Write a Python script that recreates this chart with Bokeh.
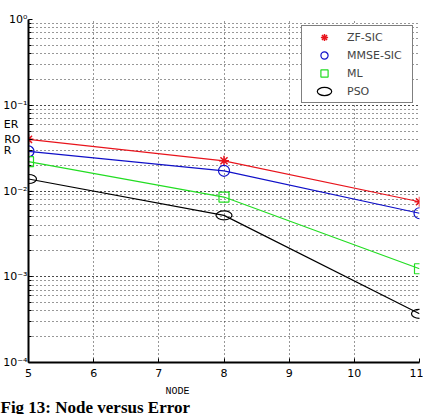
from bokeh.plotting import figure
from bokeh.models import (Range1d, Legend, LegendItem, FixedTicker,
                          LogTicker, CustomJSTickFormatter, Title)
from bokeh.embed import file_html
from bokeh.resources import INLINE

# Bit error rate against number of nodes for four detectors
nodes = [5, 8, 11]
zf_sic = [0.040, 0.0225, 0.0075]
mmse_sic = [0.029, 0.0172, 0.0055]
ml = [0.022, 0.0085, 0.00124]
pso = [0.0138, 0.0052, 0.00037]

x_ticks = [5, 6, 7, 8, 9, 10, 11]
y_decades = [1e-4, 1e-3, 1e-2, 1e-1, 1]

# the y caption "ERROR" is split over three short lines beside the axis;
# each line sits on one tick of the y axis (padding keeps the lines left-aligned)
y_caption = {0.06: "ER\u2007\u2009", 0.04: "RO\u2007", 0.03: "R\u2007\u2007\u2009"}

p = figure(width=423, height=414, output_backend="svg", toolbar_location=None,
           x_range=Range1d(5, 11), y_range=Range1d(1e-4, 1), y_axis_type="log",
           min_border_left=28, min_border_top=19,
           min_border_right=4, min_border_bottom=0,
           background_fill_color="white", border_fill_color="white")
p.outline_line_color = None

tick_font = "DejaVu Sans"

# x axis
p.xaxis.ticker = FixedTicker(ticks=x_ticks)
p.xaxis.major_tick_in = 4
p.xaxis.major_tick_out = 0
p.xaxis.minor_tick_line_color = None
p.xaxis.axis_line_width = 2
p.xaxis.major_label_text_font = tick_font
p.xaxis.major_label_text_font_size = "11px"
p.xaxis.major_label_text_color = "black"
p.xaxis.major_label_standoff = 6

# y axis (log): decades plus the caption lines, minor ticks at 2..9 of each decade
minor = [m * 10.0 ** k for k in range(-4, 0) for m in range(2, 10)]
p.yaxis.ticker = FixedTicker(ticks=y_decades + list(y_caption.keys()), minor_ticks=minor)
p.yaxis.major_tick_in = 4
p.yaxis.major_tick_out = 0
p.yaxis.minor_tick_in = 3
p.yaxis.minor_tick_out = 0
p.yaxis.axis_line_width = 2
p.yaxis.major_label_text_font = tick_font
p.yaxis.major_label_text_font_size = "11px"
p.yaxis.major_label_text_color = "black"
p.yaxis.major_label_standoff = 1
p.yaxis.formatter = CustomJSTickFormatter(args=dict(caption=y_caption), code="""
for (const [k, v] of (caption instanceof Map ? caption.entries() : Object.entries(caption))) {
    if (Math.abs(Number(k) - tick) < 1e-9) return v;
}
const e = Math.round(Math.log10(tick));
const sup = {'0':'\u2070','1':'\u00b9','2':'\u00b2','3':'\u00b3','4':'\u2074',
             '5':'\u2075','6':'\u2076','7':'\u2077','8':'\u2078','9':'\u2079','-':'\u207b'};
return '10' + String(e).split('').map(c => sup[c]).join('');
""")

# dotted grid
p.ygrid.ticker = LogTicker(num_minor_ticks=10)
for g in (p.xgrid, p.ygrid):
    g.grid_line_color = "#303030"
    g.grid_line_dash = "1 3"
    g.grid_line_width = 1
p.ygrid.minor_grid_line_color = "#303030"
p.ygrid.minor_grid_line_dash = "1 3"
p.ygrid.minor_grid_line_width = 1

# series
red, blue, green = "#e8141c", "#1010c8", "#22dd22"
p.line(nodes, zf_sic, line_color=red, line_width=1.2)
r_zf = p.scatter(nodes, zf_sic, marker="asterisk", size=10, line_color=red, line_width=1.5)

p.line(nodes, mmse_sic, line_color=blue, line_width=1.2)
r_mmse = p.scatter(nodes, mmse_sic, marker="circle", size=11, line_color=blue,
                   fill_color=None, line_width=1.2)

p.line(nodes, ml, line_color=green, line_width=1.2)
r_ml = p.scatter(nodes, ml, marker="square", size=10, line_color=green,
                 fill_color=None, line_width=1.2)

p.line(nodes, pso, line_color="black", line_width=1.2)
r_pso = p.ellipse(nodes, pso, width=16, height=9, width_units="screen",
                  height_units="screen", line_color="black", fill_color=None,
                  line_width=1.2)

legend = Legend(items=[
    LegendItem(label="ZF-SIC", renderers=[r_zf]),
    LegendItem(label="MMSE-SIC", renderers=[r_mmse]),
    LegendItem(label="ML", renderers=[r_ml]),
    LegendItem(label="PSO", renderers=[r_pso]),
], location="top_right", margin=6, padding=2, spacing=0,
   glyph_width=40, glyph_height=18, label_height=18, label_standoff=3,
   label_width=63,
   border_line_color="black", border_line_width=1,
   background_fill_color="white", background_fill_alpha=1,
   label_text_font="DejaVu Sans", label_text_font_size="11px")
p.add_layout(legend)

# x axis caption and figure caption below the axis
p.add_layout(Title(text="NODE", align="left", offset=137, standoff=9,
                   text_font="Liberation Mono", text_font_size="10px",
                   text_font_style="normal", text_color="black"), "below")
p.add_layout(Title(text="Fig 13: Node versus Error", align="left", offset=-28, standoff=-8,
                   vertical_align="top",
                   text_font="Liberation Serif", text_font_size="17px",
                   text_font_style="bold", text_color="black"), "below")

open("out.html", "w").write(file_html(p, INLINE))
